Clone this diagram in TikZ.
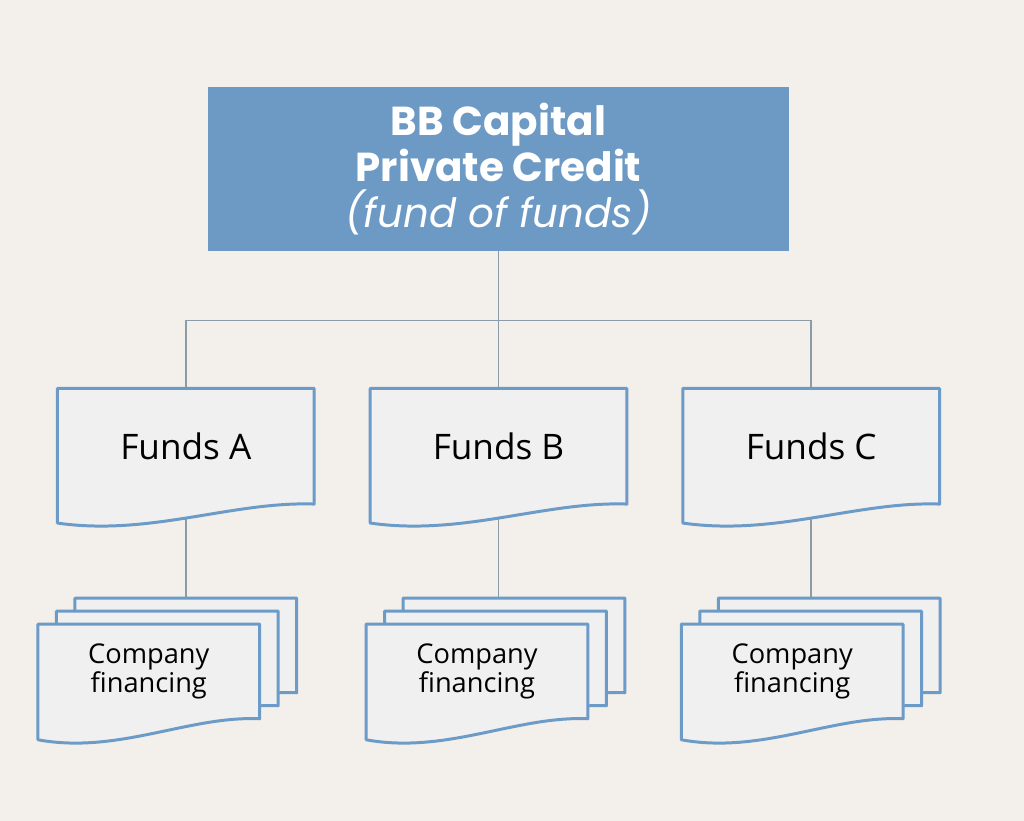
\documentclass[tikz,border=0pt]{standalone}
\usepackage{fontspec}
\setmainfont{Open Sans}
\newfontfamily\poppins{Poppins}
\usetikzlibrary{positioning,calc,backgrounds}

\definecolor{paper}{HTML}{F3EFEA}
\definecolor{capblue}{HTML}{6C9AC5}
\definecolor{edgeblue}{HTML}{6C9BC8}
\definecolor{sheetgray}{HTML}{F0F0F1}
\definecolor{linkgray}{HTML}{8C9BA8}

% wavy document outline round a named node: #1 node, #2 drop of the wave
\newcommand{\drawdoc}[2]{%
  \filldraw[docline] (#1.north west) -- (#1.north east) -- (#1.south east)
    .. controls ([yshift=0.15*#2]$(#1.south west)!0.68!(#1.south east)$)
       and ([yshift=-1.7*#2]$(#1.south west)!0.36!(#1.south east)$)
    .. ([yshift=-#2]#1.south west) -- cycle;}

\begin{document}
\begin{tikzpicture}[
        topbox/.style={rectangle, fill=capblue, text=white, minimum width=11.62cm, minimum height=3.28cm, inner sep=0pt, align=center, font=\poppins\fontsize{23}{26.2}\selectfont}, % Main box
        fundbox/.style={rectangle, minimum width=5.12cm, minimum height=2.3cm, inner sep=0pt, font=\fontsize{20}{24}\selectfont}, % Fund box
        sheet/.style={rectangle, minimum width=4.42cm, minimum height=1.88cm, inner sep=0pt, align=center, font=\fontsize{15.5}{16}\selectfont}, % Company sheet
        docline/.style={draw=edgeblue, fill=sheetgray, line width=1.7pt, line join=round},
        link/.style={draw=linkgray, line width=0.85pt}
    ]

        \useasboundingbox (-9.97,3.38) rectangle (10.51,-13.04);

        % Top of the tree
        \node (top) [topbox] {\bfseries BB Capital\\
            \bfseries Private Credit\\
            \itshape (fund of funds)};

        % Middle row
        \node (fundB) [fundbox, below=2.74cm of top] {Funds B};
        \node (fundA) [fundbox, left=1.12cm of fundB] {Funds A};
        \node (fundC) [fundbox, right=1.12cm of fundB] {Funds C};

        % Stacks of company sheets
        \foreach \f/\dx in {A/0,B/0.31,C/0.36} {
            \node (back\f) [sheet, below=1.88cm of fund\f, xshift=\dx cm] {};
            \node (mid\f) [sheet] at ([shift={(-0.37,-0.26)}]back\f) {};
            \node (front\f) [sheet] at ([shift={(-0.74,-0.52)}]back\f) {Company\\financing};
        }

        \coordinate (bus) at ($(top.south)+(0,-1.38)$);

        \begin{scope}[on background layer]
            \fill[paper] (-9.97,3.38) rectangle (10.51,-13.04);

            % Connectors
            \draw[link] (top.south) -- (bus);
            \draw[link] (fundA.north) |- (bus) -| (fundC.north);
            \draw[link] (bus) -- (fundB.north);
            \foreach \f in {A,B,C}
                \draw[link] (fund\f.center) -- (fund\f.center |- back\f.north);

            % Outlines
            \foreach \f in {A,B,C} {
                \drawdoc{fund\f}{0.38cm}
                \drawdoc{back\f}{0.42cm}
                \drawdoc{mid\f}{0.42cm}
                \drawdoc{front\f}{0.42cm}
            }
        \end{scope}

    \end{tikzpicture}
\end{document}
